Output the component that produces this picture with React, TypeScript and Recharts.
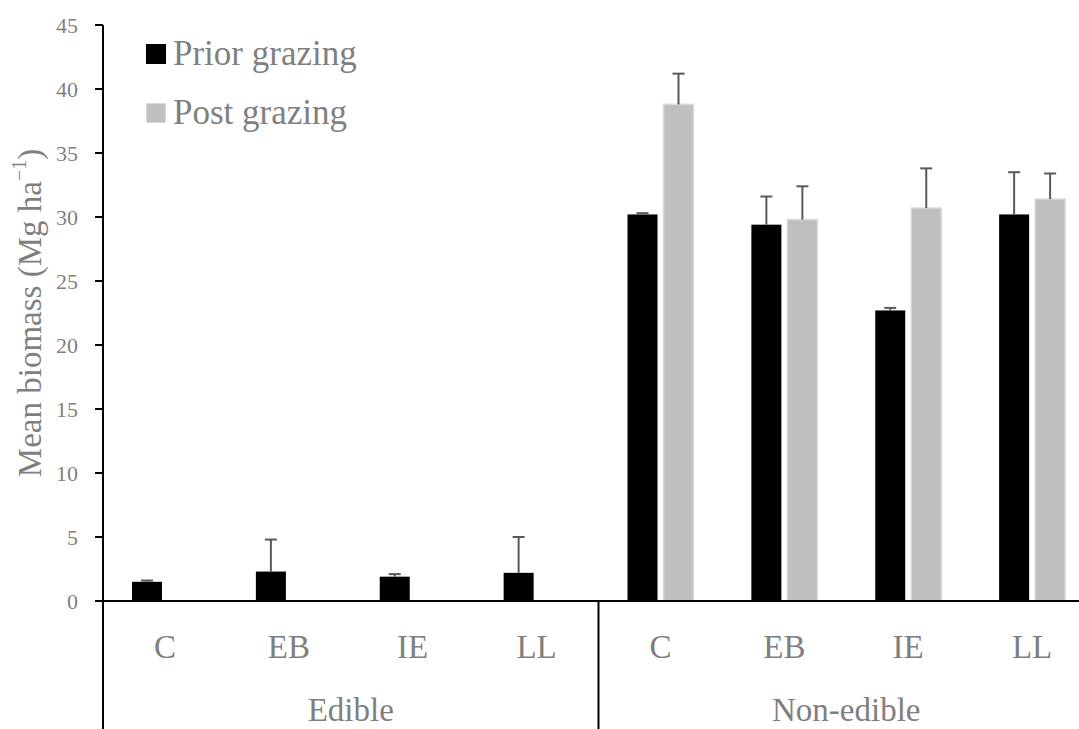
import { BarChart, Bar, XAxis, YAxis, Legend } from "recharts";

const FONT = "'Liberation Serif', 'Times New Roman', serif";
const TEXT = "#7f7f7f";

const groups = ["Edible", "Edible", "Edible", "Edible", "Non-edible", "Non-edible", "Non-edible", "Non-edible"];
const categories = ["C", "EB", "IE", "LL", "C", "EB", "IE", "LL"];
const seriesNames = ["Prior grazing", "Post grazing"];
const prior = [1.5, 2.3, 1.9, 2.2, 30.2, 29.4, 22.7, 30.2];
const priorErr = [0.1, 2.5, 0.2, 2.8, 0.1, 2.2, 0.2, 3.3];
const post = [null, null, null, null, 38.8, 29.8, 30.7, 31.4];
const postErr = [null, null, null, null, 2.4, 2.6, 3.1, 2.0];
const yTicks = [0, 5, 10, 15, 20, 25, 30, 35, 40, 45];

const data = categories.map((c, i) => ({
  key: groups[i] + ":" + c,
  group: groups[i],
  prior: prior[i],
  priorErr: priorErr[i],
  post: post[i],
  postErr: postErr[i],
}));

// bar + upper whisker only, scaled from the bar's own pixel height
const barWithError =
  (valueKey: string, errKey: string, fill: string, stroke?: string) =>
  (props: any) => {
    const { x, y, width, height, payload } = props;
    const v = payload[valueKey];
    const e = payload[errKey];
    if (v == null || !height) return <g />;
    const ppu = height / v;
    const cx = x + width / 2;
    const top = y - (e ?? 0) * ppu;
    return (
      <g>
        <rect
          x={x}
          y={y}
          width={width}
          height={height}
          fill={fill}
          stroke={stroke ?? "none"}
          strokeWidth={stroke ? 1.5 : 0}
        />
        {e != null && (
          <g stroke="#595959" strokeWidth={2}>
            <line x1={cx} x2={cx} y1={y} y2={top} />
            <line x1={cx - 6} x2={cx + 6} y1={top} y2={top} />
          </g>
        )}
      </g>
    );
  };

function CategoryTick(props: any) {
  const { x, y, payload, index, width } = props;
  const label = String(payload.value).split(":")[1];
  const band = (width ?? 991) / data.length;
  const startsGroup = index === 0 || groups[index] !== groups[index - 1];
  const last = index === data.length - 1;
  return (
    <g>
      <text
        x={x}
        y={y + 57}
        textAnchor="middle"
        fill={TEXT}
        fontSize={33}
        fontFamily={FONT}
      >
        {label}
      </text>
      {startsGroup && (
        <line x1={x - band / 2} x2={x - band / 2} y1={y} y2={y + 140} stroke="#000" strokeWidth={2} />
      )}
      {last && (
        <line x1={x + band / 2} x2={x + band / 2} y1={y} y2={y + 140} stroke="#000" strokeWidth={2} />
      )}
    </g>
  );
}

function GroupTick(props: any) {
  const { x, y, payload } = props;
  return (
    <text x={x} y={y + 52} textAnchor="middle" fill={TEXT} fontSize={33} fontFamily={FONT}>
      {payload.value}
    </text>
  );
}

function LegendBox({ payload }: any) {
  const items = [...(payload || [])].sort(
    (a: any, b: any) => seriesNames.indexOf(a.value) - seriesNames.indexOf(b.value)
  );
  return (
    <div style={{ fontFamily: FONT }}>
      {items.map((item: any) => (
        <div key={item.value} style={{ display: "flex", alignItems: "center", height: 59 }}>
          <span
            style={{
              width: 20,
              height: 20,
              background: item.color,
              boxSizing: "border-box",
              border: item.value === "Post grazing" ? "1.5px solid #d9d9d9" : "none",
            }}
          />
          <span style={{ marginLeft: 7, fontSize: 35, lineHeight: 1, color: TEXT }}>{item.value}</span>
        </div>
      ))}
    </div>
  );
}

function YLabel({ viewBox }: any) {
  const cx = 30;
  const cy = viewBox.y + viewBox.height / 2;
  return (
    <text
      x={cx}
      y={cy}
      transform={`rotate(-90, ${cx}, ${cy})`}
      textAnchor="middle"
      dominantBaseline="central"
      fill={TEXT}
      fontSize={33}
      fontFamily={FONT}
    >
      Mean biomass (Mg ha
      <tspan fontSize={20} dy={-11}>−1</tspan>
      <tspan dy={11}>)</tspan>
    </text>
  );
}

export default function App() {
  return (
    <div
      style={{
        position: "absolute",
        left: 0,
        top: 0,
        width: 1079,
        height: 729,
        overflow: "hidden",
        background: "#fff",
      }}
    >
      <BarChart
        width={1100}
        height={729}
        data={data}
        margin={{ top: 25, right: 6, bottom: 0, left: 0 }}
        barGap={6}
        style={{ fontFamily: FONT }}
      >
        <YAxis
          width={103}
          domain={[0, 45]}
          ticks={yTicks}
          interval={0}
          tickSize={8}
          tickMargin={17}
          axisLine={{ stroke: "#000", strokeWidth: 2 }}
          tickLine={{ stroke: "#000", strokeWidth: 2 }}
          tick={{ fill: TEXT, fontSize: 22, fontFamily: FONT }}
          label={<YLabel />}
        />
        <XAxis
          xAxisId="cat"
          dataKey="key"
          height={68}
          interval={0}
          tickSize={0}
          tickMargin={0}
          tickLine={false}
          axisLine={{ stroke: "#000", strokeWidth: 2 }}
          tick={<CategoryTick />}
        />
        <XAxis
          xAxisId="grp"
          dataKey="group"
          allowDuplicatedCategory={false}
          height={60}
          interval={0}
          tickSize={0}
          tickMargin={0}
          tickLine={false}
          axisLine={false}
          tick={<GroupTick />}
        />
        <Legend
          layout="vertical"
          align="center"
          verticalAlign="middle"
          wrapperStyle={{ top: 24, left: 146, width: "auto" }}
          content={<LegendBox />}
        />
        <Bar
          xAxisId="cat"
          dataKey="prior"
          name="Prior grazing"
          fill="#000000"
          barSize={30}
          isAnimationActive={false}
          shape={barWithError("prior", "priorErr", "#000000")}
        />
        <Bar
          xAxisId="cat"
          dataKey="post"
          name="Post grazing"
          fill="#bfbfbf"
          barSize={30}
          isAnimationActive={false}
          shape={barWithError("post", "postErr", "#bfbfbf", "#d9d9d9")}
        />
      </BarChart>
    </div>
  );
}
